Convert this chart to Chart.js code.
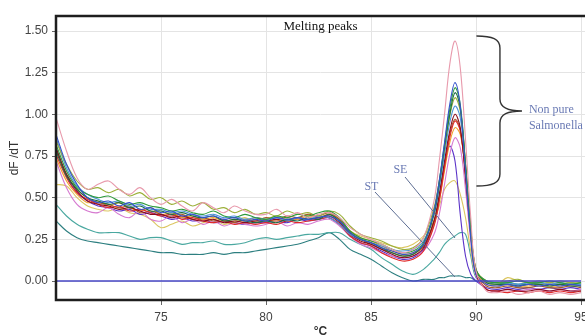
<!DOCTYPE html>
<html>
<head>
<meta charset="utf-8">
<script src="https://cdn.jsdelivr.net/npm/chart.js@4.4.1/dist/chart.umd.min.js"></script>
<style>
  html, body { margin: 0; padding: 0; background: #fff; overflow: hidden; }
  #wrap { width: 585px; height: 336px; }
</style>
</head>
<body>
<div id="wrap"><canvas id="peaks" width="585" height="336"></canvas></div>
<script>
// temperatures (°C) shared by every curve
const temps = [70, 70.5, 71, 71.5, 72, 72.5, 73, 73.5, 74, 74.5,
  75, 75.5, 76, 76.5, 77, 77.5, 78, 78.5, 79, 79.5,
  80, 80.5, 81, 81.5, 82, 82.5, 83, 83.5, 84, 84.5,
  85, 85.5, 86, 86.5, 87, 87.5, 88, 88.25, 88.5, 88.75,
  89, 89.25, 89.5, 89.75, 90, 90.5, 91, 91.5, 92, 92.5,
  93, 93.5, 94, 94.5, 95];

const xTicks = [75, 80, 85, 90, 95];
const yTicks = [0, 0.25, 0.5, 0.75, 1.0, 1.25, 1.5];

// dF/dT curves
const pink = [0.98, 0.78, 0.62, 0.55, 0.58, 0.60, 0.55, 0.52, 0.56, 0.50,
  0.46, 0.49, 0.45, 0.42, 0.47, 0.44, 0.41, 0.45, 0.42, 0.40,
  0.40, 0.43, 0.39, 0.41, 0.38, 0.40, 0.41, 0.38, 0.32, 0.28,
  0.25, 0.22, 0.19, 0.17, 0.19, 0.26, 0.48, 0.72, 1.00, 1.30,
  1.44, 1.28, 0.85, 0.38, 0.06, -0.06, -0.07, -0.06, -0.08, -0.07,
  -0.06, -0.08, -0.07, -0.08, -0.07];
const blue = [0.88, 0.70, 0.58, 0.50, 0.47, 0.48, 0.45, 0.47, 0.43, 0.44,
  0.41, 0.42, 0.39, 0.40, 0.38, 0.39, 0.37, 0.38, 0.36, 0.37,
  0.36, 0.38, 0.37, 0.38, 0.37, 0.38, 0.39, 0.36, 0.29, 0.25,
  0.23, 0.20, 0.18, 0.16, 0.17, 0.22, 0.42, 0.60, 0.83, 1.06,
  1.19, 1.05, 0.66, 0.26, 0.04, -0.02, -0.03, -0.02, -0.03, -0.02,
  -0.03, -0.02, -0.03, -0.02, -0.03];
const green = [0.82, 0.66, 0.56, 0.52, 0.50, 0.51, 0.48, 0.46, 0.47, 0.45,
  0.44, 0.42, 0.43, 0.41, 0.40, 0.42, 0.39, 0.38, 0.40, 0.38,
  0.37, 0.39, 0.38, 0.40, 0.39, 0.41, 0.42, 0.38, 0.30, 0.26,
  0.24, 0.22, 0.19, 0.17, 0.18, 0.23, 0.42, 0.60, 0.82, 1.03,
  1.16, 1.06, 0.70, 0.30, 0.06, 0.00, -0.01, -0.01, 0.00, -0.01,
  -0.01, 0.00, -0.01, -0.02, -0.01];
const darkGreen = [0.78, 0.63, 0.55, 0.50, 0.48, 0.46, 0.47, 0.44, 0.45, 0.42,
  0.42, 0.40, 0.41, 0.39, 0.38, 0.39, 0.36, 0.37, 0.36, 0.35,
  0.36, 0.35, 0.37, 0.36, 0.38, 0.37, 0.40, 0.36, 0.29, 0.25,
  0.23, 0.20, 0.17, 0.15, 0.16, 0.22, 0.40, 0.58, 0.80, 1.00,
  1.13, 1.04, 0.70, 0.32, 0.07, -0.01, -0.02, -0.02, -0.03, -0.02,
  -0.02, -0.03, -0.02, -0.03, -0.03];
const olive = [0.84, 0.70, 0.60, 0.55, 0.56, 0.53, 0.55, 0.51, 0.53, 0.49,
  0.50, 0.46, 0.48, 0.45, 0.47, 0.43, 0.44, 0.41, 0.43, 0.40,
  0.41, 0.39, 0.42, 0.40, 0.41, 0.39, 0.42, 0.40, 0.33, 0.28,
  0.26, 0.24, 0.21, 0.19, 0.20, 0.26, 0.44, 0.60, 0.80, 0.99,
  1.10, 1.02, 0.70, 0.32, 0.07, 0.00, -0.01, 0.00, 0.01, -0.01,
  0.00, -0.01, 0.00, -0.01, -0.01];
const lightBlue = [0.86, 0.68, 0.57, 0.52, 0.49, 0.47, 0.48, 0.45, 0.46, 0.43,
  0.43, 0.41, 0.42, 0.40, 0.39, 0.40, 0.38, 0.39, 0.37, 0.38,
  0.37, 0.38, 0.36, 0.38, 0.37, 0.39, 0.38, 0.34, 0.28, 0.25,
  0.23, 0.21, 0.19, 0.18, 0.19, 0.24, 0.40, 0.56, 0.76, 0.95,
  1.05, 0.98, 0.68, 0.30, 0.06, 0.00, -0.01, -0.01, -0.02, -0.01,
  -0.01, -0.02, -0.01, -0.02, -0.02];
const darkRed = [0.80, 0.64, 0.54, 0.48, 0.46, 0.45, 0.43, 0.44, 0.42, 0.40,
  0.40, 0.38, 0.39, 0.37, 0.36, 0.37, 0.35, 0.36, 0.35, 0.36,
  0.36, 0.37, 0.36, 0.38, 0.37, 0.38, 0.39, 0.35, 0.28, 0.24,
  0.22, 0.19, 0.16, 0.14, 0.15, 0.20, 0.36, 0.52, 0.72, 0.90,
  1.00, 0.92, 0.62, 0.28, 0.04, -0.05, -0.06, -0.05, -0.06, -0.06,
  -0.05, -0.06, -0.05, -0.06, -0.06];
const red = [0.76, 0.62, 0.53, 0.49, 0.46, 0.44, 0.45, 0.42, 0.43, 0.41,
  0.39, 0.40, 0.37, 0.38, 0.36, 0.35, 0.36, 0.34, 0.35, 0.34,
  0.35, 0.34, 0.36, 0.35, 0.36, 0.37, 0.38, 0.34, 0.27, 0.23,
  0.21, 0.17, 0.14, 0.12, 0.13, 0.18, 0.33, 0.48, 0.68, 0.86,
  0.96, 0.90, 0.64, 0.30, 0.05, -0.05, -0.06, -0.07, -0.06, -0.07,
  -0.06, -0.07, -0.06, -0.07, -0.06];
const brown = [0.79, 0.64, 0.55, 0.50, 0.47, 0.46, 0.44, 0.45, 0.41, 0.42,
  0.40, 0.39, 0.40, 0.37, 0.38, 0.36, 0.37, 0.35, 0.37, 0.36,
  0.38, 0.37, 0.39, 0.38, 0.40, 0.39, 0.41, 0.37, 0.29, 0.25,
  0.22, 0.19, 0.17, 0.15, 0.16, 0.21, 0.36, 0.51, 0.70, 0.88,
  0.97, 0.91, 0.64, 0.30, 0.05, -0.03, -0.04, -0.03, -0.04, -0.04,
  -0.03, -0.04, -0.04, -0.03, -0.04];
const orange = [0.74, 0.60, 0.52, 0.47, 0.48, 0.45, 0.47, 0.44, 0.42, 0.44,
  0.40, 0.41, 0.38, 0.39, 0.37, 0.38, 0.36, 0.37, 0.36, 0.38,
  0.37, 0.36, 0.38, 0.37, 0.39, 0.38, 0.40, 0.37, 0.30, 0.26,
  0.24, 0.21, 0.18, 0.16, 0.17, 0.21, 0.34, 0.48, 0.66, 0.83,
  0.92, 0.88, 0.66, 0.32, 0.07, -0.02, -0.03, -0.02, -0.03, -0.03,
  -0.02, -0.03, -0.03, -0.02, -0.03];
const magenta = [0.72, 0.56, 0.46, 0.42, 0.41, 0.44, 0.40, 0.38, 0.42, 0.37,
  0.36, 0.39, 0.35, 0.37, 0.34, 0.36, 0.33, 0.35, 0.34, 0.33,
  0.34, 0.36, 0.33, 0.35, 0.34, 0.36, 0.37, 0.33, 0.27, 0.22,
  0.20, 0.17, 0.15, 0.14, 0.15, 0.18, 0.28, 0.40, 0.58, 0.76,
  0.86, 0.80, 0.55, 0.24, 0.03, -0.05, -0.06, -0.05, -0.06, -0.05,
  -0.05, -0.06, -0.05, -0.06, -0.05];
const purple = [0.80, 0.63, 0.53, 0.48, 0.45, 0.44, 0.42, 0.43, 0.40, 0.41,
  0.39, 0.37, 0.38, 0.36, 0.37, 0.35, 0.36, 0.35, 0.34, 0.35,
  0.35, 0.36, 0.35, 0.37, 0.36, 0.37, 0.38, 0.34, 0.27, 0.23,
  0.21, 0.18, 0.15, 0.13, 0.14, 0.19, 0.34, 0.50, 0.70, 0.81,
  0.72, 0.40, 0.15, 0.04, 0.00, -0.04, -0.05, -0.04, -0.05, -0.04,
  -0.05, -0.04, -0.05, -0.04, -0.05];
const yellow = [0.58, 0.57, 0.50, 0.45, 0.43, 0.42, 0.44, 0.41, 0.40, 0.37,
  0.32, 0.34, 0.36, 0.33, 0.35, 0.37, 0.34, 0.36, 0.38, 0.35,
  0.37, 0.39, 0.36, 0.38, 0.40, 0.38, 0.40, 0.36, 0.30, 0.27,
  0.25, 0.23, 0.21, 0.20, 0.22, 0.27, 0.36, 0.45, 0.55, 0.59,
  0.60, 0.52, 0.38, 0.18, 0.04, -0.01, -0.02, 0.02, 0.00, -0.01,
  -0.01, -0.02, -0.01, -0.02, -0.02];
const se = [0.46, 0.39, 0.34, 0.31, 0.29, 0.29, 0.29, 0.27, 0.25, 0.26,
  0.26, 0.24, 0.22, 0.23, 0.23, 0.24, 0.22, 0.22, 0.23, 0.25,
  0.26, 0.25, 0.26, 0.27, 0.28, 0.28, 0.29, 0.29, 0.25, 0.22,
  0.19, 0.14, 0.10, 0.06, 0.04, 0.07, 0.13, 0.17, 0.22, 0.25,
  0.27, 0.29, 0.28, 0.15, 0.02, -0.01, -0.02, -0.01, -0.02, -0.02,
  -0.01, -0.02, -0.02, -0.01, -0.02];
const st = [0.36, 0.30, 0.26, 0.24, 0.23, 0.22, 0.21, 0.20, 0.19, 0.18,
  0.17, 0.17, 0.16, 0.16, 0.16, 0.17, 0.16, 0.17, 0.17, 0.18,
  0.19, 0.20, 0.21, 0.22, 0.24, 0.26, 0.29, 0.25, 0.19, 0.16,
  0.13, 0.09, 0.05, 0.02, 0.00, 0.01, 0.01, 0.02, 0.02, 0.03,
  0.03, 0.03, 0.02, 0.02, 0.00, -0.01, -0.02, -0.01, -0.02, -0.01,
  -0.02, -0.01, -0.02, -0.02, -0.01];
const blank = [0, 0, 0, 0, 0, 0, 0, 0, 0, 0,
  0, 0, 0, 0, 0, 0, 0, 0, 0, 0,
  0, 0, 0, 0, 0, 0, 0, 0, 0, 0,
  0, 0, 0, 0, 0, 0, 0, 0, 0, 0,
  0, 0, 0, 0, 0, 0, 0, 0, 0, 0,
  0, 0, 0, 0, 0];

const curves = [
  [blank, '#4646c4'],
  [pink, '#e89aac'],
  [blue, '#3452cc'],
  [green, '#2f9a3c'],
  [darkGreen, '#1f6e42'],
  [olive, '#9cb03a'],
  [lightBlue, '#4d94d8'],
  [darkRed, '#8a0c1e'],
  [red, '#e02a2a'],
  [brown, '#a35a2a'],
  [orange, '#f0a02c'],
  [magenta, '#d67ad0'],
  [purple, '#5a32c8'],
  [yellow, '#dcc660'],
  [se, '#4aa8a0'],
  [st, '#2d7f80']
];

const datasets = curves.map(([vals, color]) => ({
  data: temps.map((t, i) => ({ x: t, y: vals[i] })),
  borderColor: color,
  borderWidth: color === '#4646c4' ? 1.5 : 1.1,
  pointRadius: 0,
  tension: 0.35,
  fill: false
}));

// title, labels, brace and frame drawn over the plot
const overlay = {
  id: 'overlay',
  afterDatasetsDraw(chart) {
    const ctx = chart.ctx;
    const xs = chart.scales.x, ys = chart.scales.y;
    const X = v => xs.getPixelForValue(v), Y = v => ys.getPixelForValue(v);
    const area = chart.chartArea;
    ctx.save();

    ctx.fillStyle = '#111';
    ctx.font = '13px "Liberation Serif", serif';
    ctx.textAlign = 'center';
    ctx.textBaseline = 'middle';
    ctx.fillText('Melting peaks', (area.left + area.right) / 2, area.top + 11);

    // pointer lines for ST and SE
    ctx.strokeStyle = '#5d6d92';
    ctx.lineWidth = 1;
    ctx.beginPath();
    ctx.moveTo(X(85.19), Y(0.534));
    ctx.lineTo(X(89.0), Y(0.024));
    ctx.moveTo(X(86.62), Y(0.624));
    ctx.lineTo(X(89.0), Y(0.258));
    ctx.stroke();

    ctx.fillStyle = '#6a7ab4';
    ctx.font = '12px "Liberation Serif", serif';
    ctx.fillText('ST', X(85.02), Y(0.564));
    ctx.fillText('SE', X(86.4), Y(0.666));
    ctx.textAlign = 'left';
    ctx.fillText('Non pure', X(92.52), Y(1.026));
    ctx.fillText('Salmonella', X(92.52), Y(0.93));

    // curly brace
    const l = X(90.02), s = X(91.14), tip = X(92.19);
    const top = Y(1.47), mid = Y(1.02), bot = Y(0.57);
    ctx.strokeStyle = '#333';
    ctx.lineWidth = 1.4;
    ctx.beginPath();
    ctx.moveTo(l, top);
    ctx.bezierCurveTo(l + 16, top, s, top + 3, s, top + 12);
    ctx.lineTo(s, mid - 12);
    ctx.bezierCurveTo(s, mid - 3, s + 8, mid, tip, mid);
    ctx.bezierCurveTo(s + 8, mid, s, mid + 3, s, mid + 12);
    ctx.lineTo(s, bot - 12);
    ctx.bezierCurveTo(s, bot - 3, l + 16, bot, l, bot);
    ctx.stroke();

    // plot frame: left, top, bottom (right side is cut off in the source)
    ctx.strokeStyle = '#1e1e1e';
    ctx.lineWidth = 2.5;
    ctx.beginPath();
    ctx.moveTo(area.right + 2, area.top);
    ctx.lineTo(area.left, area.top);
    ctx.lineTo(area.left, area.bottom);
    ctx.lineTo(area.right + 2, area.bottom);
    ctx.stroke();
    ctx.restore();
  }
};

new Chart(document.getElementById('peaks'), {
  type: 'line',
  data: { datasets: datasets },
  plugins: [overlay],
  options: {
    responsive: false,
    animation: false,
    devicePixelRatio: 1,
    layout: { padding: { top: 16, left: 0, right: 0, bottom: 0 } },
    plugins: { legend: { display: false }, tooltip: { enabled: false } },
    scales: {
      x: {
        type: 'linear',
        min: 70,
        max: 95.19,
        afterBuildTicks: s => { s.ticks = xTicks.map(v => ({ value: v })); },
        afterFit: s => { s.height = 36; s.paddingLeft = 0; s.paddingRight = 0; },
        grid: { color: '#e4e4e4', tickColor: '#666', tickLength: 5 },
        border: { display: false },
        ticks: { color: '#444', padding: 5, maxRotation: 0,
          font: { family: '"Liberation Sans", Arial, sans-serif', size: 12 } },
        title: { display: true, text: '°C', color: '#333', padding: { top: 0, bottom: -3 },
          font: { family: '"Liberation Sans", Arial, sans-serif', size: 12, weight: 'bold' } }
      },
      y: {
        min: -0.114,
        max: 1.59,
        afterBuildTicks: s => { s.ticks = yTicks.map(v => ({ value: v })); },
        afterFit: s => { s.width = 56; s.paddingTop = 0; s.paddingBottom = 0; },
        grid: { color: '#e4e4e4', tickColor: '#666', tickLength: 4 },
        border: { display: false },
        ticks: { color: '#444', padding: 4, callback: v => v.toFixed(2),
          font: { family: '"Liberation Sans", Arial, sans-serif', size: 12 } },
        title: { display: true, text: 'dF /dT', color: '#333', padding: { top: 7, bottom: 0 },
          font: { family: '"Liberation Sans", Arial, sans-serif', size: 12 } }
      }
    }
  }
});
</script>
</body>
</html>
